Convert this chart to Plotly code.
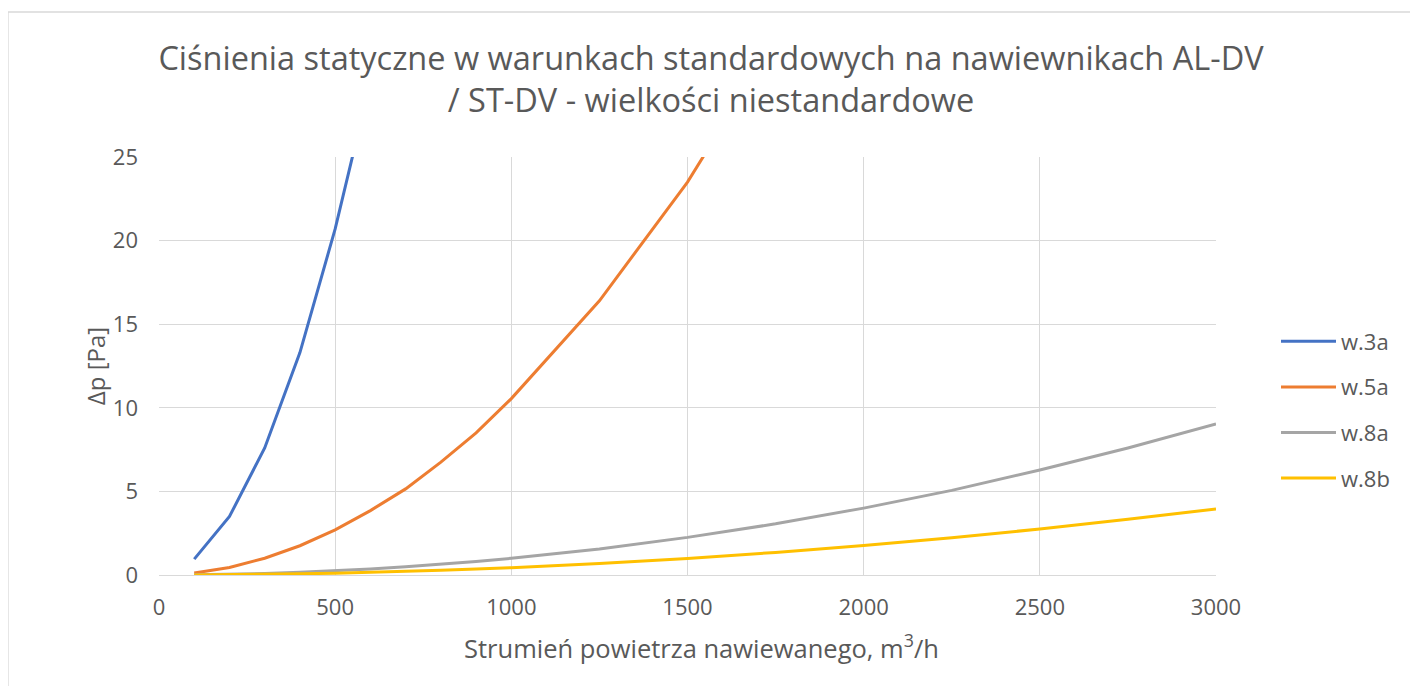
import plotly.graph_objects as go

flow = [100, 200, 300, 400, 500, 600, 700, 800, 900, 1000, 1250, 1500, 1750, 2000, 2250, 2500, 2750, 3000]
w3a = [0.95, 3.5, 7.6, 13.3, 20.7, 29.5]
w5a = [0.12, 0.45, 1.0, 1.75, 2.7, 3.85, 5.15, 6.75, 8.5, 10.55, 16.4, 23.5, 32.0]
w8a = [0.01, 0.04, 0.09, 0.16, 0.25, 0.36, 0.49, 0.64, 0.81, 1.0, 1.56, 2.25, 3.06, 4.0, 5.06, 6.28, 7.6, 9.03]
w8b = [0.004, 0.018, 0.04, 0.07, 0.11, 0.16, 0.22, 0.28, 0.36, 0.44, 0.69, 0.99, 1.35, 1.76, 2.23, 2.75, 3.33, 3.95]

names = ["w.3a", "w.5a", "w.8a", "w.8b"]
series = [w3a, w5a, w8a, w8b]
colors = ["#4472C4", "#ED7D31", "#A5A5A5", "#FFC000"]

FONT = "Open Sans"
TXT = "#595959"

fig = go.Figure()
for n, s, c in zip(names, series, colors):
    fig.add_trace(go.Scatter(x=flow[:len(s)], y=s, name=n, mode="lines",
                             legendgroup=n,
                             line=dict(color=c, width=3)))

W, H = 1418, 686
OFF = 7  # page offset applied by the browser
L, R, T, B = 158 - OFF, W - (1215 - OFF), 156 - OFF, H - (574 - OFF)
pw, ph = W - L - R, H - T - B

def px(xp):
    return (xp - OFF - L) / pw

def py(yp):
    return (H - B - (yp - OFF)) / ph

fig.add_shape(type="rect", xref="paper", yref="paper",
              x0=px(7), x1=px(1411), y0=py(11), y1=py(700),
              line=dict(color="#D9D9D9", width=1.3), fillcolor="rgba(0,0,0,0)", layer="below")

fig.add_annotation(text="Strumień powietrza nawiewanego, m<sup>3</sup>/h",
                   xref="paper", yref="paper", x=px(700), y=py(645),
                   xanchor="center", yanchor="middle", showarrow=False,
                   font=dict(size=25.5, color=TXT, family=FONT))

fig.update_layout(
    width=W, height=H,
    margin=dict(l=L, r=R, t=T, b=B),
    paper_bgcolor="white", plot_bgcolor="white",
    font=dict(family=FONT, color=TXT),
    title=dict(text="Ciśnienia statyczne w warunkach standardowych na nawiewnikach AL-DV<br>/ ST-DV - wielkości niestandardowe",
               x=(710 - OFF) / W, xref="container", xanchor="center", y=1 - 62 / H, yanchor="top",
               font=dict(size=32.5, family=FONT, color=TXT)),
    xaxis=dict(range=[0, 3000], tickvals=[0, 500, 1000, 1500, 2000, 2500, 3000],
               showgrid=True, gridcolor="#D9D9D9", gridwidth=1.3,
               zeroline=False, showline=True, linecolor="#D9D9D9", linewidth=1.3, mirror=False,
               ticks="", tickfont=dict(size=22, color=TXT), ticklabelstandoff=12),
    yaxis=dict(range=[0, 25], tickvals=[0, 5, 10, 15, 20, 25],
               showgrid=True, gridcolor="#D9D9D9", gridwidth=1.3,
               zeroline=False, showline=False, ticks="",
               tickfont=dict(size=22, color=TXT), ticklabelstandoff=20,
               title=dict(text="Δp [Pa]", font=dict(size=24, color=TXT), standoff=0)),
    legend=dict(x=px(1274 + OFF - 6), xanchor="left", xref="paper", y=py(409), yanchor="middle",
                font=dict(size=22, color=TXT), traceorder="grouped", tracegroupgap=14,
                itemwidth=55, bgcolor="rgba(0,0,0,0)"),
    showlegend=True,
)
fig.write_html("out.html")
